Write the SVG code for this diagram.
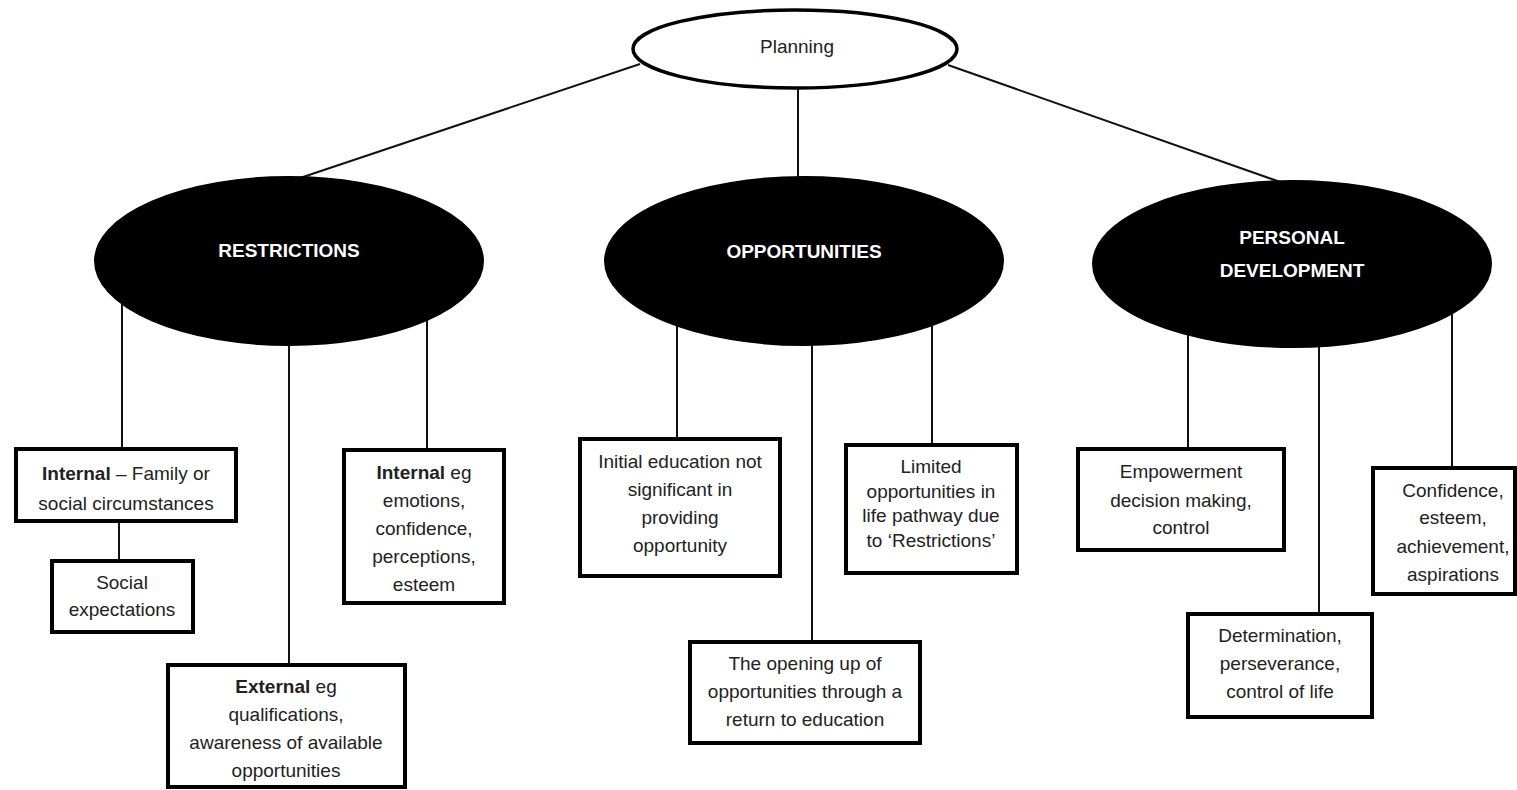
<svg xmlns="http://www.w3.org/2000/svg" width="1517" height="790" viewBox="0 0 1517 790">
<style>
.bg{fill:#ffffff}
.conn line{stroke:#111;stroke-width:2;fill:none}
.box{fill:#fff;stroke:#000;stroke-width:4}
.oval{fill:#000;stroke:#000;stroke-width:2}
.top{fill:#fff;stroke:#000;stroke-width:3.5}
text{font-family:"Liberation Sans",Arial,sans-serif;font-size:19px;fill:#222;text-anchor:middle}
.w{fill:#fff;font-weight:bold}
.b{font-weight:bold}
</style>
<rect class="bg" x="0" y="0" width="1517" height="790"/>
<g id="connectors" class="conn">
<line x1="640" y1="64" x2="300" y2="178"/>
<line x1="798" y1="88" x2="798" y2="178"/>
<line x1="948" y1="65" x2="1283" y2="183"/>
<line x1="122" y1="261" x2="122" y2="448"/>
<line x1="289" y1="261" x2="289" y2="664"/>
<line x1="427" y1="261" x2="427" y2="449"/>
<line x1="119" y1="521" x2="119" y2="560"/>
<line x1="677" y1="261" x2="677" y2="438"/>
<line x1="812" y1="261" x2="812" y2="641"/>
<line x1="932" y1="261" x2="932" y2="444"/>
<line x1="1188" y1="264" x2="1188" y2="448"/>
<line x1="1319" y1="264" x2="1319" y2="613"/>
<line x1="1452" y1="264" x2="1452" y2="467"/>
</g>
<g id="planning">
<ellipse class="top" cx="795" cy="49" rx="162" ry="39"/>
<text x="797" y="53">Planning</text>
</g>
<g id="restrictions">
<ellipse class="oval" cx="289" cy="261" rx="194" ry="84"/>
<text class="w" x="289" y="257">RESTRICTIONS</text>
</g>
<g id="opportunities">
<ellipse class="oval" cx="804" cy="261" rx="199" ry="84"/>
<text class="w" x="804" y="258">OPPORTUNITIES</text>
</g>
<g id="personal">
<ellipse class="oval" cx="1292" cy="264" rx="199" ry="83"/>
<text class="w" x="1292" y="244">PERSONAL</text>
<text class="w" x="1292" y="277">DEVELOPMENT</text>
</g>
<g id="internal-family">
<rect class="box" x="16" y="449" width="220" height="72"/>
<text x="126" y="480"><tspan class="b">Internal</tspan> – Family or</text>
<text x="126" y="510">social circumstances</text>
</g>
<g id="social-expectations">
<rect class="box" x="52" y="561" width="141" height="71"/>
<text x="122" y="589">Social</text>
<text x="122" y="616">expectations</text>
</g>
<g id="external">
<rect class="box" x="168" y="665" width="237" height="122"/>
<text x="286" y="693"><tspan class="b">External</tspan> eg</text>
<text x="286" y="721">qualifications,</text>
<text x="286" y="749">awareness of available</text>
<text x="286" y="777">opportunities</text>
</g>
<g id="internal-eg">
<rect class="box" x="344" y="450" width="160" height="153"/>
<text x="424" y="479"><tspan class="b">Internal</tspan> eg</text>
<text x="424" y="507">emotions,</text>
<text x="424" y="535">confidence,</text>
<text x="424" y="563">perceptions,</text>
<text x="424" y="591">esteem</text>
</g>
<g id="initial-education">
<rect class="box" x="580" y="439" width="200" height="137"/>
<text x="680" y="468">Initial education not</text>
<text x="680" y="496">significant in</text>
<text x="680" y="524">providing</text>
<text x="680" y="552">opportunity</text>
</g>
<g id="opening-up">
<rect class="box" x="690" y="642" width="230" height="101"/>
<text x="805" y="670">The opening up of</text>
<text x="805" y="698">opportunities through a</text>
<text x="805" y="726">return to education</text>
</g>
<g id="limited">
<rect class="box" x="846" y="445" width="171" height="128"/>
<text x="931" y="473">Limited</text>
<text x="931" y="498">opportunities in</text>
<text x="931" y="522">life pathway due</text>
<text x="931" y="547">to ‘Restrictions’</text>
</g>
<g id="empowerment">
<rect class="box" x="1078" y="449" width="206" height="101"/>
<text x="1181" y="478">Empowerment</text>
<text x="1181" y="507">decision making,</text>
<text x="1181" y="534">control</text>
</g>
<g id="determination">
<rect class="box" x="1188" y="614" width="184" height="103"/>
<text x="1280" y="642">Determination,</text>
<text x="1280" y="670">perseverance,</text>
<text x="1280" y="698">control of life</text>
</g>
<g id="confidence">
<rect class="box" x="1373" y="468" width="142" height="126"/>
<text x="1453" y="497">Confidence,</text>
<text x="1453" y="524">esteem,</text>
<text x="1453" y="553">achievement,</text>
<text x="1453" y="581">aspirations</text>
</g>
</svg>
